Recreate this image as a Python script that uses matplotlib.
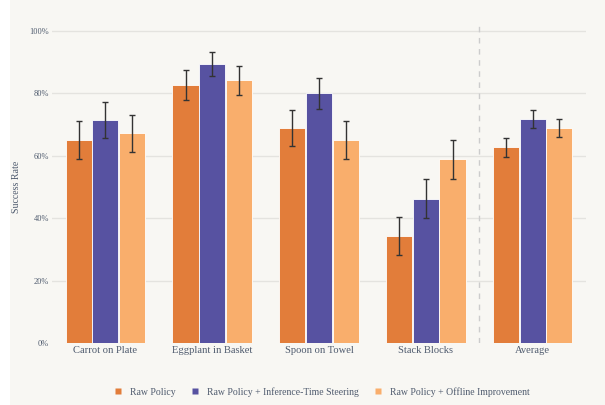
import matplotlib
matplotlib.use("Agg")
import matplotlib.pyplot as plt
from matplotlib.patches import Rectangle
from matplotlib.lines import Line2D
import numpy as np

categories = ["Carrot on Plate", "Eggplant in Basket", "Spoon on Towel", "Stack Blocks", "Average"]
series_names = ["Raw Policy", "Raw Policy + Inference-Time Steering", "Raw Policy + Offline Improvement"]
raw = [65.1, 82.6, 68.9, 34.3, 62.7]
raw_err = [6.0, 4.8, 5.8, 6.0, 3.0]
steer = [71.4, 89.3, 80.0, 46.3, 71.8]
steer_err = [5.7, 3.9, 5.0, 6.3, 2.8]
offline = [67.2, 84.2, 65.0, 58.9, 68.9]
offline_err = [6.0, 4.6, 6.0, 6.2, 3.0]
yticks = [0, 20, 40, 60, 80, 100]
ytick_labels = ["0%", "20%", "40%", "60%", "80%", "100%"]

colors = ["#E27D3A", "#5752A1", "#F9AE6C"]
text_color = "#4F5B6E"
font = "Liberation Serif"

fig = plt.figure(figsize=(6.05, 4.05), dpi=100)
fig.patch.set_facecolor("white")
fig.patches.append(Rectangle((10 / 605, 0), 1 - 10 / 605, 1, transform=fig.transFigure,
                             facecolor="#F8F7F3", edgecolor="none", zorder=-10))

ax = fig.add_axes([52 / 605, 62 / 405, 534 / 605, 318 / 405])
ax.set_facecolor("none")

x = np.arange(len(categories))
offsets = [-0.25, 0.0, 0.25]
width = 0.245
for vals, errs, off, c in zip([raw, steer, offline], [raw_err, steer_err, offline_err], offsets, colors):
    ax.bar(x + off, vals, width=width, color=c, edgecolor="white", linewidth=0.6, zorder=2)
    ax.errorbar(x + off, vals, yerr=errs, fmt="none", ecolor="#333333", elinewidth=1.0,
                capsize=2.2, capthick=1.0, zorder=3)

ax.axvline(3.5, color="#CCCCCC", linestyle=(0, (4, 4)), linewidth=1.0, zorder=1)

ax.set_xlim(-0.5, len(categories) - 0.5)
ax.set_ylim(0, 101.9)
ax.set_yticks(yticks)
ax.set_yticklabels(ytick_labels, fontsize=6.0, color=text_color, fontfamily=font)
ax.set_xticks(x)
ax.set_xticklabels(categories, fontsize=7.6, color=text_color, fontfamily=font)
ax.tick_params(axis="both", length=0, pad=2)
ax.grid(axis="y", color="#E4E3DF", linewidth=1.0, zorder=0)
ax.set_axisbelow(True)
gl = ax.yaxis.get_gridlines()
gl[0].set_visible(False)
for s in ax.spines.values():
    s.set_visible(False)

ax.set_ylabel("Success Rate", fontsize=7.1, color=text_color, fontfamily=font)
ax.yaxis.set_label_coords(-0.058, 0.49)

handles = [Line2D([0], [0], marker="s", linestyle="none", markersize=4, markerfacecolor=c,
                  markeredgecolor="none") for c in colors]
leg = fig.legend(handles, series_names, loc="center", bbox_to_anchor=(322 / 605, 1 - 392 / 405),
                 ncol=3, frameon=False, prop={"family": font, "size": 7.05},
                 handlelength=0.8, handletextpad=0.8, columnspacing=1.6)
for t in leg.get_texts():
    t.set_color(text_color)

fig.savefig("out.png", dpi=100)
